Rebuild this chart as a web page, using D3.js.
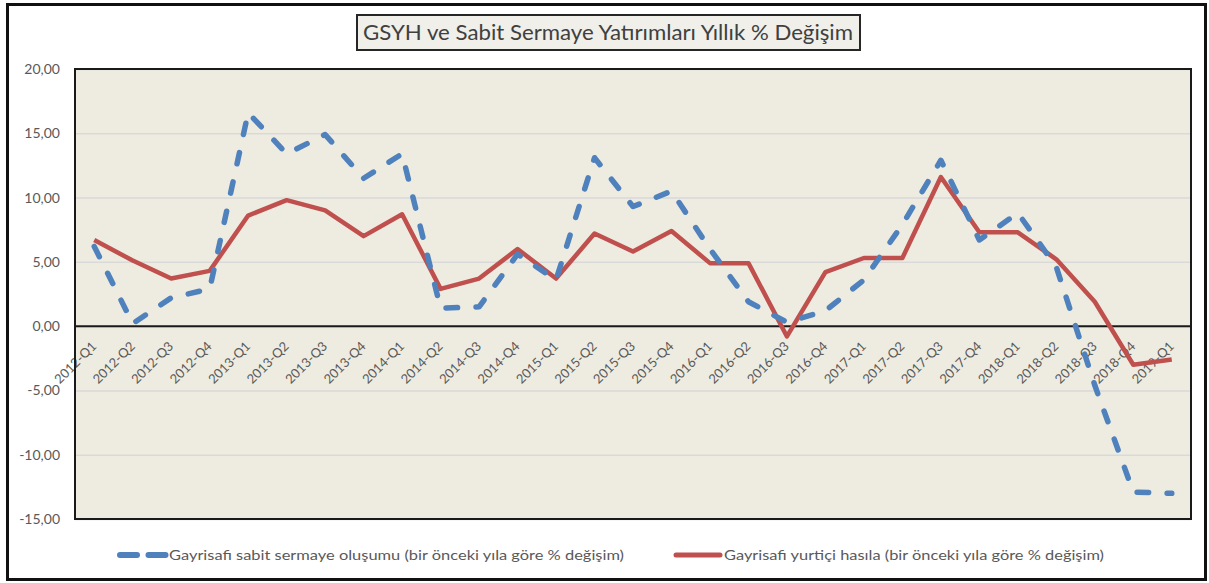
<!DOCTYPE html>
<html>
<head>
<meta charset="utf-8">
<script src="https://cdn.jsdelivr.net/npm/d3@7"></script>
<style>
  body { margin: 0; background: #ffffff; }
  text { font-family: Lato, "Open Sans", sans-serif; }
</style>
</head>
<body>
<div class="chart"></div>
<script>
// DATA
const CATEGORIES = ["2012-Q1", "2012-Q2", "2012-Q3", "2012-Q4",
                    "2013-Q1", "2013-Q2", "2013-Q3", "2013-Q4",
                    "2014-Q1", "2014-Q2", "2014-Q3", "2014-Q4",
                    "2015-Q1", "2015-Q2", "2015-Q3", "2015-Q4",
                    "2016-Q1", "2016-Q2", "2016-Q3", "2016-Q4",
                    "2017-Q1", "2017-Q2", "2017-Q3", "2017-Q4",
                    "2018-Q1", "2018-Q2", "2018-Q3", "2018-Q4",
                    "2019-Q1"];

// Gayrisafi sabit sermaye oluşumu
const SABIT = [6.2, 0.2, 2.2, 2.9, 16.6, 13.4, 14.9, 11.5, 13.4, 1.4,
               1.5, 5.6, 3.6, 13.1, 9.3, 10.5, 6.0, 1.9, 0.3, 1.2,
               3.6, 7.9, 12.9, 6.7, 8.8, 4.6, -4.6, -12.9, -13.0];

// Gayrisafi yurtiçi hasıla
const YURTICI = [6.7, 5.1, 3.7, 4.3, 8.6, 9.8, 9.0, 7.0, 8.7, 2.9,
                 3.7, 6.0, 3.7, 7.2, 5.8, 7.4, 4.9, 4.9, -0.8, 4.2,
                 5.3, 5.3, 11.6, 7.3, 7.3, 5.2, 1.9, -3.0, -2.6];

const Y_TICKS = [20, 15, 10, 5, 0, -5, -10, -15];

const TITLE = "GSYH ve Sabit Sermaye Yatırımları Yıllık % Değişim";
const LEGEND_SABIT = "Gayrisafi sabit sermaye oluşumu (bir önceki yıla göre % değişim)";
const LEGEND_YURTICI = "Gayrisafi yurtiçi hasıla (bir önceki yıla göre % değişim)";

// GLOBAL CONSTANTS
const FRAME_WIDTH = 1209;
const FRAME_HEIGHT = 583;
const PLOT = {left: 75, right: 1191, top: 69, bottom: 519};

const FRAME = d3.select(".chart")
                .append("svg")
                  .attr("width", FRAME_WIDTH)
                  .attr("height", FRAME_HEIGHT);

// outer border
FRAME.append("rect")
    .attr("x", 7.5)
    .attr("y", 4.5)
    .attr("width", 1198)
    .attr("height", 575)
    .attr("fill", "#ffffff")
    .attr("stroke", "#111111")
    .attr("stroke-width", 3);

// scales
const X_SCALE = d3.scaleBand()
                  .domain(CATEGORIES)
                  .range([PLOT.left, PLOT.right]);

const Y_SCALE = d3.scaleLinear()
                  .domain([-15, 20])
                  .range([PLOT.bottom, PLOT.top]);

const xPos = (i) => X_SCALE(CATEGORIES[i]) + X_SCALE.bandwidth() / 2;

const fmt = (v) => d3.format(".2f")(v).replace(".", ",").replace("\u2212", "-");

// plot background
FRAME.append("rect")
    .attr("x", PLOT.left)
    .attr("y", PLOT.top)
    .attr("width", PLOT.right - PLOT.left)
    .attr("height", PLOT.bottom - PLOT.top)
    .attr("fill", "#eeece1");

// gridlines + y labels
const Y_AXIS = FRAME.append("g")
    .attr("transform", "translate(" + PLOT.left + ",0)")
    .call(d3.axisLeft(Y_SCALE)
            .tickValues(Y_TICKS)
            .tickSize(-(PLOT.right - PLOT.left))
            .tickPadding(15)
            .tickFormat(fmt));

Y_AXIS.select(".domain").remove();
Y_AXIS.selectAll("line")
    .attr("stroke", "#d9d9d9")
    .attr("stroke-width", 1.5);
Y_AXIS.selectAll("text")
    .attr("fill", "#595959")
    .attr("font-size", "14px");

// zero line
FRAME.append("line")
    .attr("x1", PLOT.left)
    .attr("x2", PLOT.right)
    .attr("y1", Y_SCALE(0))
    .attr("y2", Y_SCALE(0))
    .attr("stroke", "#1a1a1a")
    .attr("stroke-width", 2);

// x labels, rotated, hanging under the zero line
FRAME.selectAll(".xlabel")
    .data(CATEGORIES)
    .enter()
    .append("text")
      .attr("class", "xlabel")
      .attr("transform", (d) => "translate(" + (X_SCALE(d) + X_SCALE.bandwidth() / 2 + 3) +
                                "," + (Y_SCALE(0) + 21) + ") rotate(-45)")
      .attr("text-anchor", "end")
      .attr("fill", "#595959")
      .attr("font-size", "13px")
      .text((d) => d);

// lines
const line = d3.line()
    .x((d, i) => xPos(i))
    .y((d) => Y_SCALE(d));

FRAME.append("path")
    .datum(YURTICI)
    .attr("d", line)
    .attr("fill", "none")
    .attr("stroke", "#c0504d")
    .attr("stroke-width", 4.5)
    .attr("stroke-linejoin", "round");

FRAME.append("path")
    .datum(SABIT)
    .attr("d", line)
    .attr("fill", "none")
    .attr("stroke", "#4f81bd")
    .attr("stroke-width", 5.5)
    .attr("stroke-linecap", "round")
    .attr("stroke-linejoin", "round")
    .attr("stroke-dasharray", "11.5,18.5");

// plot border
FRAME.append("rect")
    .attr("x", PLOT.left)
    .attr("y", PLOT.top)
    .attr("width", PLOT.right - PLOT.left)
    .attr("height", PLOT.bottom - PLOT.top)
    .attr("fill", "none")
    .attr("stroke", "#1a1a1a")
    .attr("stroke-width", 2);

// title
FRAME.append("rect")
    .attr("x", 357)
    .attr("y", 15)
    .attr("width", 503)
    .attr("height", 35)
    .attr("fill", "#f0efe9")
    .attr("stroke", "#262626")
    .attr("stroke-width", 2);

FRAME.append("text")
    .attr("x", 608)
    .attr("y", 40)
    .attr("text-anchor", "middle")
    .attr("fill", "#404040")
    .attr("font-size", "21px")
    .attr("textLength", 490)
    .attr("lengthAdjust", "spacingAndGlyphs")
    .text(TITLE);

// legend
const LEGEND_Y = 555;

FRAME.append("line")
    .attr("x1", 120)
    .attr("x2", 165.5)
    .attr("y1", LEGEND_Y)
    .attr("y2", LEGEND_Y)
    .attr("stroke", "#4f81bd")
    .attr("stroke-width", 6)
    .attr("stroke-linecap", "round")
    .attr("stroke-dasharray", "17,11.5");

FRAME.append("text")
    .attr("x", 169)
    .attr("y", LEGEND_Y + 5)
    .attr("fill", "#595959")
    .attr("font-size", "14px")
    .attr("textLength", 455)
    .attr("lengthAdjust", "spacingAndGlyphs")
    .text(LEGEND_SABIT);

FRAME.append("line")
    .attr("x1", 676)
    .attr("x2", 720)
    .attr("y1", LEGEND_Y)
    .attr("y2", LEGEND_Y)
    .attr("stroke", "#c0504d")
    .attr("stroke-width", 5)
    .attr("stroke-linecap", "round");

FRAME.append("text")
    .attr("x", 724)
    .attr("y", LEGEND_Y + 5)
    .attr("fill", "#595959")
    .attr("font-size", "14px")
    .attr("textLength", 380)
    .attr("lengthAdjust", "spacingAndGlyphs")
    .text(LEGEND_YURTICI);
</script>
</body>
</html>
